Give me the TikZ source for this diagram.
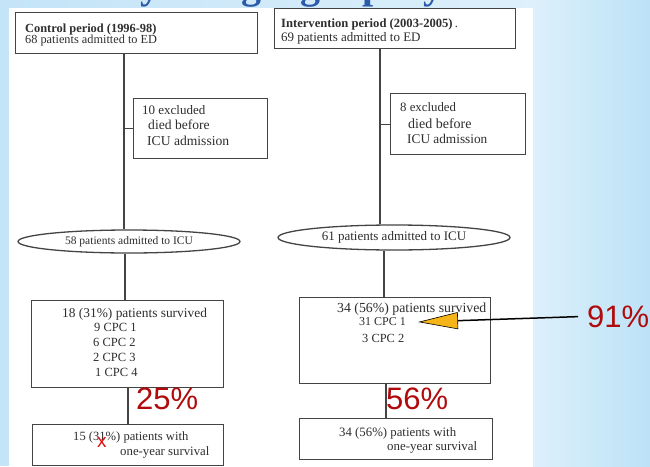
\documentclass[tikz,border=0pt]{standalone}
\usepackage{fontspec}
\setmainfont{Liberation Serif}
\newfontfamily\pctfont{Liberation Sans}
\usetikzlibrary{shapes.geometric,arrows.meta}
\definecolor{bgleft}{HTML}{C4E4F8}
\definecolor{bglight}{HTML}{DDF0FB}
\definecolor{bgdeep}{HTML}{BCE2F7}
\definecolor{titleblue}{HTML}{2B5BAA}
\definecolor{inkgray}{HTML}{2E2E2E}
\definecolor{linegray}{HTML}{444444}
\definecolor{pctred}{HTML}{B00A0A}
\definecolor{xred}{HTML}{E01010}
\definecolor{tipyellow}{HTML}{F5B417}
\newcommand{\fsz}[1]{\fontsize{#1}{#1}\selectfont}
\begin{document}
\begin{tikzpicture}[x=1pt,y=-1pt,
  scanbox/.style={draw=linegray, line width=1.3pt, inner sep=0pt, anchor=north west},
  scanline/.style={draw=linegray, line width=1.3pt},
  scantext/.style={text=inkgray, inner sep=0pt, anchor=base west},
  oval/.style={ellipse, draw=linegray, line width=1.3pt, inner sep=0pt, text=inkgray},
  pct/.style={text=pctred, inner sep=0pt, anchor=base west, font=\pctfont\fsz{31}},
  titleglyph/.style={text=titleblue, inner sep=0pt, anchor=base, font=\bfseries\fsz{40}}
]
\useasboundingbox (0,0) rectangle (650,466);
\clip (0,0) rectangle (650,466);
% background
\fill[bgleft] (0,0) rectangle (650,466);
\shade[left color=bglight, right color=bgdeep] (533,0) rectangle (650,466);
\shade[left color=bgleft, right color=bglight] (0,0) rectangle (533,8);
% title fragments (descenders only)
\node[titleglyph] (g1) at (150,-2) {y};
\node[titleglyph] (g2) at (251,-2) {g};
\node[titleglyph] (g3) at (310,-2) {g};
\node[titleglyph] (g4) at (374,-2) {p};
\node[titleglyph] (g5) at (433,-2) {y};
% white scan
\fill[white] (9,8) rectangle (533,466);

% ---- left column ----
\node[scanbox, minimum width=242pt, minimum height=41pt] (A) at (15,12) {};
\node[scantext, font=\bfseries\fsz{12.4}] (At1) at (25,32) {Control period (1996-98)};
\node[scantext, font=\fsz{12.3}] (At2) at (25,43) {68 patients admitted to ED};

\node[scanbox, minimum width=134pt, minimum height=60pt] (XL) at (133,98) {};
\node[scantext, font=\fsz{13}] (XLt1) at (142,114) {10 excluded};
\node[scantext, font=\fsz{13.6}] (XLt2) at (148,129) {died before};
\node[scantext, font=\fsz{13.6}] (XLt3) at (147,145) {ICU admission};

\node[oval, minimum width=222pt, minimum height=23pt, font=\fsz{11.5}] (EL) at (129,241.5) {58 patients admitted to ICU};

\node[scanbox, minimum width=192pt, minimum height=87pt] (CL) at (31,300) {};
\node[scantext, font=\fsz{13.4}] (CLt1) at (62,317) {18 (31\%) patients survived};
\node[scantext, font=\fsz{12.5}] (CLt2) at (94,331) {9 CPC 1};
\node[scantext, font=\fsz{12.5}] (CLt3) at (93,346) {6 CPC 2};
\node[scantext, font=\fsz{12.5}] (CLt4) at (93,361) {2 CPC 3};
\node[scantext, font=\fsz{12.5}] (CLt5) at (95,376) {1 CPC 4};

\node[scanbox, minimum width=191pt, minimum height=41pt] (DL) at (32,424) {};
\node[scantext, font=\fsz{12.6}] (DLt1) at (73,440) {15 (31\%) patients with};
\node[scantext, font=\fsz{12.8}] (DLt2) at (120,455) {one-year survival};
\node[text=xred, inner sep=0pt, anchor=base west, font=\pctfont\fsz{19}] (xmark) at (97,447) {x};

\coordinate (tL) at (124,0);
\draw[scanline] (A.south -| tL) -- (EL.north -| tL);
\draw[scanline] (XL.west -| tL) -- (XL.west);
\draw[scanline] (EL.south -| 125,0) -- (CL.north -| 125,0);
\draw[scanline] (CL.south -| 128,0) -- (DL.north -| 128,0);

\node[pct] (p25) at (136,409) {25\%};

% ---- right column ----
\node[scanbox, minimum width=241pt, minimum height=40pt] (B) at (274,8) {};
\node[scantext, font=\bfseries\fsz{12.6}] (Bt1) at (281,27) {Intervention period (2003-2005)\,\mdseries .};
\node[scantext, font=\fsz{13}] (Bt2) at (281,41) {69 patients admitted to ED};

\node[scanbox, minimum width=135pt, minimum height=61pt] (XR) at (390,93) {};
\node[scantext, font=\fsz{12.8}] (XRt1) at (400,111) {8 excluded};
\node[scantext, font=\fsz{14}] (XRt2) at (408,128) {died before};
\node[scantext, font=\fsz{13.3}] (XRt3) at (407,143) {ICU admission};

\node[oval, minimum width=232pt, minimum height=25pt, font=\fsz{13}] (ER) at (394,237.5) {61 patients admitted to ICU};

\node[scanbox, minimum width=191pt, minimum height=86pt] (CR) at (299,297) {};
\node[scantext, font=\fsz{13.8}] (CRt1) at (337,312) {34 (56\%) patients survived};
\node[scantext, font=\fsz{12}] (CRt2) at (359,325) {31 CPC 1};
\node[scantext, font=\fsz{12.4}] (CRt3) at (362,342) {3 CPC 2};

\node[scanbox, minimum width=193pt, minimum height=41pt] (DR) at (299,418) {};
\node[scantext, font=\fsz{12.8}] (DRt1) at (339,436) {34 (56\%) patients with};
\node[scantext, font=\fsz{12.9}] (DRt2) at (387,450) {one-year survival};

\coordinate (tR) at (380,0);
\draw[scanline] (B.south -| tR) -- (ER.north -| tR);
\draw[scanline] (XR.west -| tR) -- (XR.west);
\draw[scanline] (ER.south -| 384,0) -- (CR.north -| 384,0);
\draw[scanline] (CR.south -| 386,0) -- (DR.north -| 386,0);

\node[pct] (p56) at (386,409) {56\%};
\node[pct] (p91) at (587,327) {91\%};

\coordinate (cpcTip) at (418,322);
\draw[black, line width=1.5pt, shorten <=9pt,
  -{Triangle[length=40pt, width=17pt, fill=tipyellow, line width=0.6pt]}]
  (p91.west) -- (cpcTip);
\end{tikzpicture}
\end{document}
